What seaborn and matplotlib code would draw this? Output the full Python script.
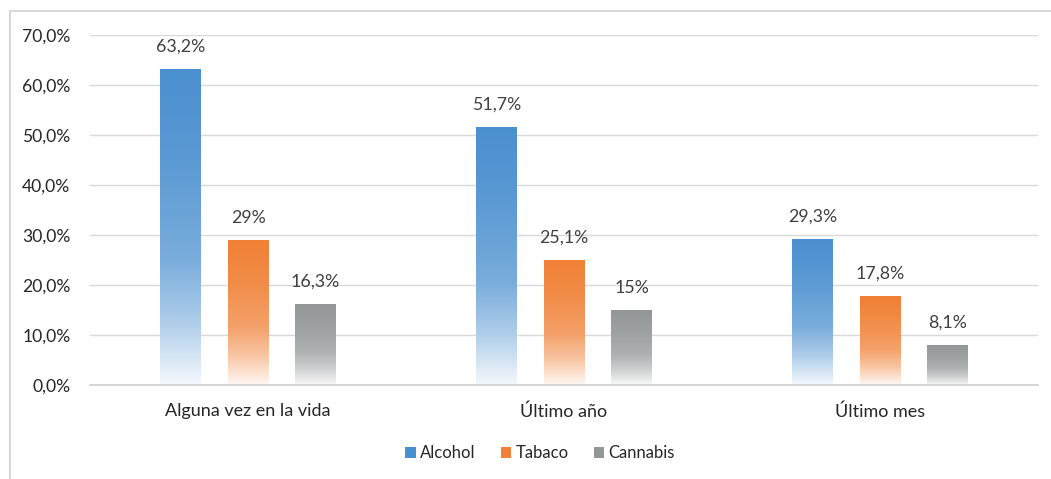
import numpy as np
import pandas as pd
import matplotlib
matplotlib.use("Agg")
import matplotlib.pyplot as plt
from matplotlib.colors import to_rgb
from matplotlib.patches import Rectangle, Patch
import seaborn as sns

# Prevalence of consumption by substance and time period
periods = ["Alguna vez en la vida", "Último año", "Último mes"]
substances = ["Alcohol", "Tabaco", "Cannabis"]
alcohol = [63.2, 51.7, 29.3]
tabaco = [29.0, 25.1, 17.8]
cannabis = [16.3, 15.0, 8.1]
yticks = [0, 10, 20, 30, 40, 50, 60, 70]

colors = {"Alcohol": "#4a8fcf", "Tabaco": "#f08035", "Cannabis": "#939697"}

df = pd.DataFrame({
    "periodo": periods * 3,
    "sustancia": [s for s in substances for _ in periods],
    "valor": alcohol + tabaco + cannabis,
})

sns.set_theme(style="white")
plt.rcParams["font.family"] = ["Lato", "DejaVu Sans"]

fig = plt.figure(figsize=(10.51, 4.79), dpi=100)
ax = fig.add_axes([90 / 1051, 1 - 385 / 479, (1038 - 90) / 1051, 350 / 479])

sns.barplot(data=df, x="periodo", y="valor", hue="sustancia",
            order=periods, hue_order=substances, palette=colors,
            width=0.641, gap=0.407, errorbar=None, legend=False, ax=ax,
            linewidth=0, saturation=1)


def fade(color, n=256):
    """Vertical gradient from solid colour at the top to near white at the bottom."""
    c = np.array(to_rgb(color))
    t = np.linspace(0, 1, n)
    mix = np.interp(t, [0.0, 0.3, 0.6, 0.8, 1.0], [0.0, 0.1, 0.26, 0.55, 0.94])
    rgb = c[None, :] * (1 - mix[:, None]) + mix[:, None]
    img = np.ones((n, 1, 4))
    img[:, 0, :3] = rgb
    return img


# Bars come out grouped by hue, in substance order
vals_by_hue = [alcohol, tabaco, cannabis]
for i, container in enumerate(ax.containers):
    sub = substances[i]
    for patch, v in zip(container.patches, vals_by_hue[i]):
        x0 = patch.get_x()
        w = patch.get_width()
        h = patch.get_height()
        patch.set_facecolor("none")
        im = ax.imshow(fade(colors[sub]), extent=(x0, x0 + w, 0, h),
                       origin="upper", aspect="auto", zorder=2,
                       interpolation="bilinear")
        im.set_clip_path(patch)
        label = f"{v:.0f}%" if float(v).is_integer() else f"{v:.1f}%".replace(".", ",")
        ax.annotate(label, (x0 + w / 2, h), xytext=(0, 10),
                    textcoords="offset points", ha="center", va="bottom",
                    fontsize=12.8, color="#404040")

ax.set_xlim(-0.5, 2.5)
ax.set_ylim(0, 70)

ax.set_yticks(yticks)
ax.set_yticklabels([f"{v:.1f}%".replace(".", ",") for v in yticks])
ax.yaxis.grid(True, color="#d9d9d9", linewidth=1)
ax.set_axisbelow(True)
for side in ["left", "right", "top"]:
    ax.spines[side].set_visible(False)
ax.spines["bottom"].set_color("#cfcfcf")
ax.spines["bottom"].set_linewidth(1.2)
ax.tick_params(axis="both", length=0, colors="#262626")
ax.tick_params(axis="y", labelsize=12.6, pad=14)
ax.tick_params(axis="x", labelsize=13, pad=13)
ax.set_xlabel("")
ax.set_ylabel("")

handles = [Patch(facecolor=colors[s], edgecolor="none") for s in substances]
fig.legend(handles, substances, loc="center", bbox_to_anchor=(540 / 1051, 1 - 453 / 479),
           ncol=3, frameon=False, fontsize=12, handlelength=0.65, handleheight=0.65,
           handletextpad=0.25, columnspacing=1.5, labelcolor="#262626")

# Chart frame
fig.patches.append(Rectangle((10 / 1051, -0.1), 1.1, 1.1 - 11 / 479,
                             transform=fig.transFigure, fill=False,
                             edgecolor="#d9d9d9", linewidth=1.5))

fig.savefig("out.png", dpi=100)
